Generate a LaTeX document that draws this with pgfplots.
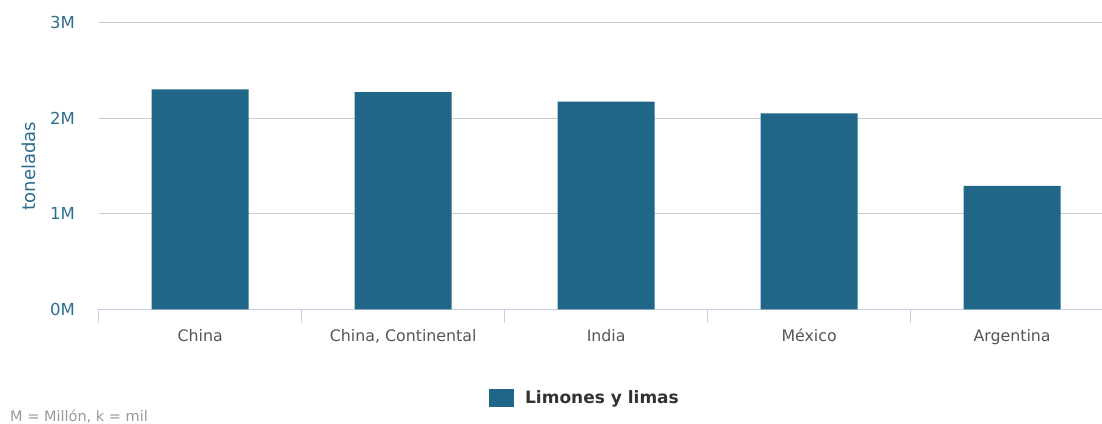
\documentclass[border=0pt]{standalone}
\usepackage{pgfplots}
\pgfplotsset{compat=1.18}
\usepackage{fontspec}
\setmainfont{DejaVu Sans}
\definecolor{barc}{HTML}{1F6689}
\definecolor{tickc}{HTML}{2B6E8E}
\definecolor{catc}{HTML}{555555}
\definecolor{gridc}{HTML}{CCCCCC}
\definecolor{axc}{HTML}{C4CFE3}
\definecolor{notec}{HTML}{999999}
\definecolor{legc}{HTML}{333333}
\begin{document}
\begin{tikzpicture}[x=1pt,y=1pt]
\useasboundingbox (0,0) rectangle (1102,423);
\begin{axis}[
  at={(98.7pt,113.7pt)}, anchor=south west,
  scale only axis, width=1003.3pt, height=286.6pt,
  xmin=-0.5, xmax=4.443, ymin=0, ymax=3000000,
  axis lines*=left,
  y axis line style={draw=none},
  x axis line style={draw=axc, line width=1.3pt},
  ymajorgrids, grid style={draw=gridc, line width=1.3pt},
  ytick={0,1000000,2000000,3000000},
  yticklabels={0M,1M,2M,3M},
  scaled y ticks=false,
  major tick length=0pt,
  xtick={0,1,2,3,4},
  xticklabels={China,{China, Continental},India,México,Argentina},
  minor xtick={-0.5,0.5,1.5,2.5,3.5},
  minor tick length=14pt,
  tick align=outside,
  minor x tick style={draw=axc, line width=1.3pt},
  yticklabel style={font=\fontsize{16.5}{18}\selectfont, text=tickc, anchor=east, inner sep=0pt, xshift=-23.7pt},
  xticklabel style={font=\fontsize{15.8}{18}\selectfont, text=catc, anchor=base, inner sep=0pt, yshift=-32.4pt},
  ylabel={toneladas},
  ylabel style={at={(axis description cs:-0.0695,0.5)}, anchor=center, inner sep=0pt, font=\fontsize{18}{20}\selectfont, text=tickc},
  legend style={at={(axis description cs:0.4847,-0.3095)}, anchor=center, draw=none, fill=none, font=\bfseries\fontsize{17}{18}\selectfont, text=legc, inner sep=0pt, legend cell align=left},
  legend image code/.code={\fill[barc] (0pt,-9pt) rectangle (25pt,9pt); \path (34pt,0pt);},
  clip=false,
]
\addplot[ybar, bar width=97pt, fill=barc, draw=none, bar shift=0pt] coordinates {
  (0,2303000) (1,2272000) (2,2173000) (3,2052000) (4,1291000)
};
\addlegendentry{Limones y limas}
\end{axis}
\node[anchor=west, inner sep=0pt, text=notec, font=\fontsize{14.5}{16}\selectfont] at (10,6.5) {M = Millón, k = mil};
\end{tikzpicture}
\end{document}
